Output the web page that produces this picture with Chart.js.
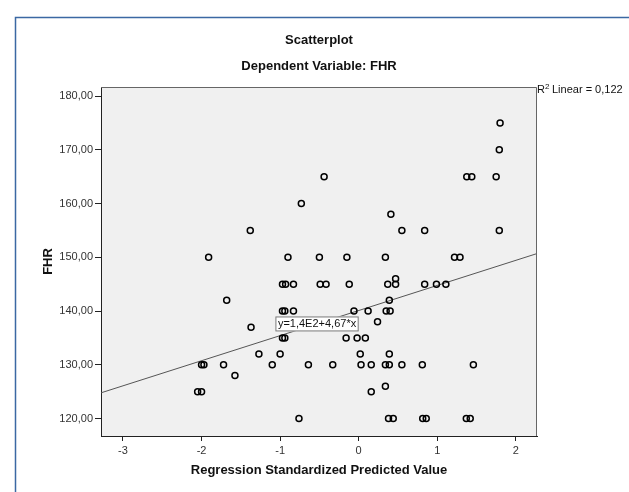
<!DOCTYPE html>
<html>
<head>
<meta charset="utf-8">
<script src="https://cdn.jsdelivr.net/npm/chart.js@4"></script>
<style>
    body { margin: 0; background: #fff; }
    canvas { display: block; }
</style>
</head>
<body>
<canvas id="scatterChart" width="629" height="492"></canvas>
<script>
// Data
const predictedValues = [
    -2.05, -2.00, -2.00, -1.97, -1.91, -1.72, -1.68, -1.575, -1.38, -1.37,
    -1.27, -1.10, -1.00, -0.97, -0.93, -0.83, -0.97, -0.94, -0.83, -0.97,
    -0.94, -0.90, -0.76, -0.73, -0.64, -0.50, -0.49, -0.415, -0.44, -0.33,
    -0.15, -0.12, -0.16, -0.02, 0.085, 0.02, 0.03, 0.16, -0.06, 0.12,
    0.24, 0.16, 0.34, 0.34, 0.39, 0.39, 0.35, 0.40, 0.39, 0.37,
    0.47, 0.47, 0.34, 0.41, 0.38, 0.44, 0.55, 0.55, 0.81, 0.815,
    0.86, 0.84, 0.84, 0.99, 1.11, 1.22, 1.29, 1.37, 1.42, 1.376,
    1.44, 1.46, 1.75, 1.79, 1.79, 1.80
];
const fhrValues = [
    125, 125, 130, 130, 150, 130, 142, 128, 155, 137,
    132, 130, 132, 145, 145, 145, 140, 140, 140, 135,
    135, 150, 120, 160, 130, 150, 145, 145, 165, 130,
    150, 145, 135, 135, 135, 132, 130, 130, 140, 140,
    138, 125, 126, 130, 130, 132, 140, 140, 142, 145,
    145, 146, 150, 158, 120, 120, 130, 155, 130, 120,
    120, 145, 155, 145, 145, 150, 150, 120, 120, 165,
    165, 130, 165, 155, 170, 175
];
const xTickValues = [-3, -2, -1, 0, 1, 2];
const yTickValues = [120, 130, 140, 150, 160, 170, 180];

// Fit line and labels
const fitIntercept = 140.1;
const fitSlope = 4.67;
const fitLabel = 'y=1,4E2+4,67*x';
const rSquaredText = '0,122';

// Axis ranges
const X_MIN = -3.28;
const X_MAX = 2.27;
const Y_MIN = 116.75;
const Y_MAX = 181.7;

const FONT = '"Liberation Sans", Arial, sans-serif';

// Background, frame and all the text around the plot
const frameAndText = {
    id: 'frameAndText',
    beforeDraw(chart) {
        const { ctx, chartArea: a } = chart;
        ctx.save();
        ctx.fillStyle = '#ffffff';
        ctx.fillRect(0, 0, chart.width, chart.height);

        // outer blue frame
        ctx.strokeStyle = '#3b68a3';
        ctx.lineWidth = 1.5;
        ctx.beginPath();
        ctx.moveTo(15.5, chart.height);
        ctx.lineTo(15.5, 17.5);
        ctx.lineTo(chart.width, 17.5);
        ctx.stroke();

        // plot background
        ctx.fillStyle = '#f0f0f0';
        ctx.fillRect(a.left, a.top, a.right - a.left, a.bottom - a.top);
        ctx.restore();
    },
    afterDraw(chart) {
        const { ctx, chartArea: a, scales } = chart;
        const midX = (a.left + a.right) / 2;
        ctx.save();

        // top and right border of the plot
        ctx.strokeStyle = '#666';
        ctx.lineWidth = 1;
        ctx.beginPath();
        ctx.moveTo(a.left, a.top + 0.5);
        ctx.lineTo(a.right - 0.5, a.top + 0.5);
        ctx.lineTo(a.right - 0.5, a.bottom);
        ctx.stroke();

        // titles
        ctx.fillStyle = '#111';
        ctx.textAlign = 'center';
        ctx.textBaseline = 'middle';
        ctx.font = 'bold 13px ' + FONT;
        ctx.fillText('Scatterplot', midX, 40);
        ctx.fillText('Dependent Variable: FHR', midX, 66);
        ctx.fillText('Regression Standardized Predicted Value', midX, 470);

        ctx.save();
        ctx.translate(48, (a.top + a.bottom) / 2);
        ctx.rotate(-Math.PI / 2);
        ctx.fillText('FHR', 0, 0);
        ctx.restore();

        // R squared note
        ctx.textAlign = 'left';
        ctx.font = '11px ' + FONT;
        ctx.fillText('R', a.right, a.top + 3);
        const rW = ctx.measureText('R').width;
        ctx.font = '8px ' + FONT;
        ctx.fillText('2', a.right + rW, a.top);
        ctx.font = '11px ' + FONT;
        ctx.fillText(' Linear = ' + rSquaredText, a.right + rW + 4, a.top + 3);

        // fit label box
        const bx = scales.x.getPixelForValue(-1.06);
        const by = scales.y.getPixelForValue(139);
        ctx.font = '11px ' + FONT;
        const tw = ctx.measureText(fitLabel).width;
        ctx.fillStyle = '#ffffff';
        ctx.fillRect(bx, by, tw + 5, 15);
        ctx.strokeStyle = '#777';
        ctx.strokeRect(bx + 0.5, by + 0.5, tw + 4, 14);
        ctx.fillStyle = '#111';
        ctx.fillText(fitLabel, bx + 2.5, by + 8);

        ctx.restore();
    }
};

const scatterPoints = predictedValues.map((x, i) => ({ x: x, y: fhrValues[i] }));
const fitPoints = [X_MIN, X_MAX].map(x => ({ x: x, y: fitIntercept + fitSlope * x }));

new Chart(document.getElementById('scatterChart'), {
    type: 'scatter',
    data: {
        datasets: [{
            label: 'FHR',
            data: scatterPoints,
            pointStyle: 'circle',
            pointRadius: 3,
            borderColor: '#000',
            borderWidth: 1.5,
            backgroundColor: 'rgba(0,0,0,0)',
            order: 1
        }, {
            label: 'Fit',
            data: fitPoints,
            showLine: true,
            pointRadius: 0,
            borderColor: '#555',
            borderWidth: 1,
            order: 2
        }]
    },
    options: {
        responsive: false,
        animation: false,
        layout: {
            padding: { top: 87, right: 92, left: 0, bottom: 0 }
        },
        plugins: {
            legend: { display: false },
            tooltip: { enabled: false }
        },
        scales: {
            x: {
                type: 'linear',
                min: X_MIN,
                max: X_MAX,
                afterBuildTicks: s => { s.ticks = xTickValues.map(v => ({ value: v })); },
                afterFit: s => { s.height = 56; },
                border: { display: true, color: '#222', width: 1 },
                grid: { drawOnChartArea: false, drawTicks: true, tickLength: 5, color: '#222' },
                ticks: {
                    color: '#333',
                    padding: 3,
                    maxRotation: 0,
                    font: { family: FONT, size: 11 },
                    callback: v => String(v)
                }
            },
            y: {
                type: 'linear',
                min: Y_MIN,
                max: Y_MAX,
                afterBuildTicks: s => { s.ticks = yTickValues.map(v => ({ value: v })); },
                afterFit: s => { s.width = 101; },
                border: { display: true, color: '#222', width: 1 },
                grid: { drawOnChartArea: false, drawTicks: true, tickLength: 6, color: '#222' },
                ticks: {
                    color: '#333',
                    padding: 2,
                    font: { family: FONT, size: 11 },
                    callback: v => v.toFixed(2).replace('.', ',')
                }
            }
        }
    },
    plugins: [frameAndText]
});
</script>
</body>
</html>
